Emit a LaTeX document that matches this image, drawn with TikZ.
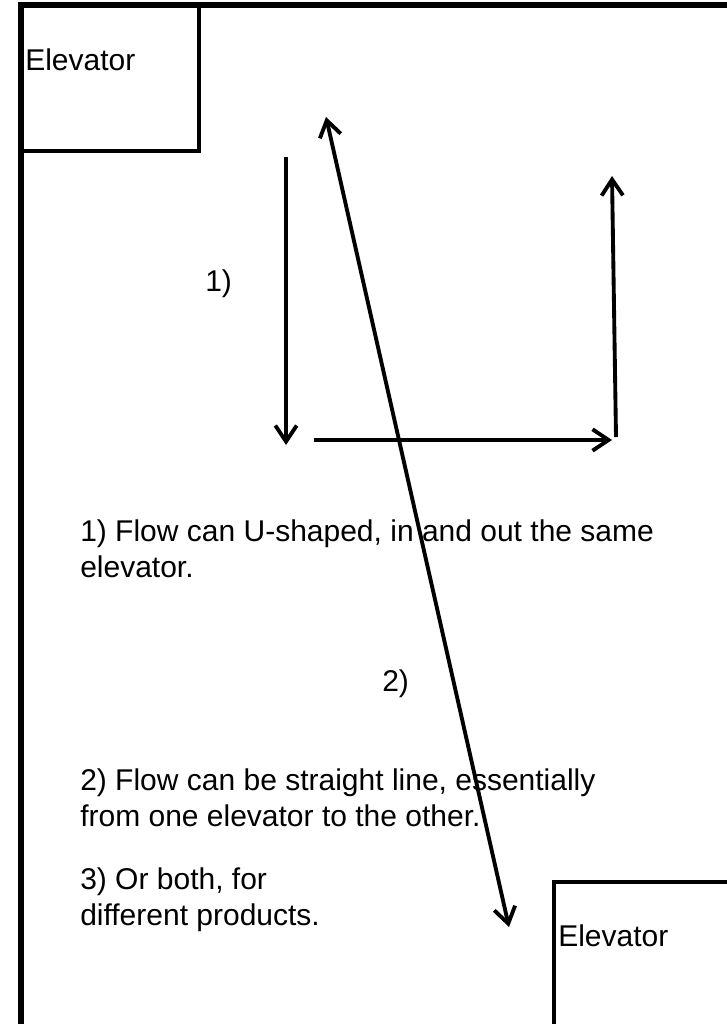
\documentclass[tikz,border=0pt]{standalone}
\usepackage{fontspec}
\setmainfont{Liberation Sans}
\usetikzlibrary{arrows.meta}

\begin{document}
\begin{tikzpicture}[x=0.75pt, y=-0.75pt,
    >={Straight Barb[length=12pt,width=16pt]},
    wall/.style={line width=4.5pt, line join=miter},
    lift/.style={line width=2.3pt},
    flow/.style={line width=2.9pt},
    note/.style={font=\fontsize{22.5}{26.3}\selectfont, inner sep=0pt, anchor=base west, align=left}]
    \useasboundingbox (0,0) rectangle (727,1024);
    % Walls and the two elevators.
        \draw[wall] (21,1035) -- (21,5.5) -- (735,5.5);
        \draw[lift] (21,151) -- (199,151) -- (199,5.5);
        \draw[lift] (554,1035) -- (554,882) -- (735,882);
    % Ends of the flow arrows.
        \coordinate (uin) at (286,157);
        \coordinate (ubottom) at (286,445);
        \coordinate (uleft) at (314,440);
        \coordinate (uright) at (612,440);
        \coordinate (ufoot) at (616,437);
        \coordinate (uout) at (612,176);
        \coordinate (lineA) at (326,117);
        \coordinate (lineB) at (509,927);
    % This draws the U-shaped flow.
        \draw[flow, ->] (uin) -- (ubottom);
        \draw[flow, ->] (uleft) -- (uright);
        \draw[flow, ->] (ufoot) -- (uout);
    % This draws the straight flow.
        \draw[flow, <->] (lineA) -- (lineB);
    % Below nodes are the labels.
        \node[note] (liftA) at (25,70) {Elevator};
        \node[note] (liftB) at (558,946) {Elevator};
        \node[note] (tagA) at (205,291) {1)};
        \node[note] (tagB) at (382,691) {2)};
        \node[note] (textA) at (80,577) {1) Flow can U-shaped, in and out the same\\elevator.};
        \node[note] (textB) at (80,826) {2) Flow can be straight line, essentially\\from one elevator to the other.};
        \node[note] (textC) at (80,925) {3) Or both, for\\different products.};
\end{tikzpicture}
\end{document}
